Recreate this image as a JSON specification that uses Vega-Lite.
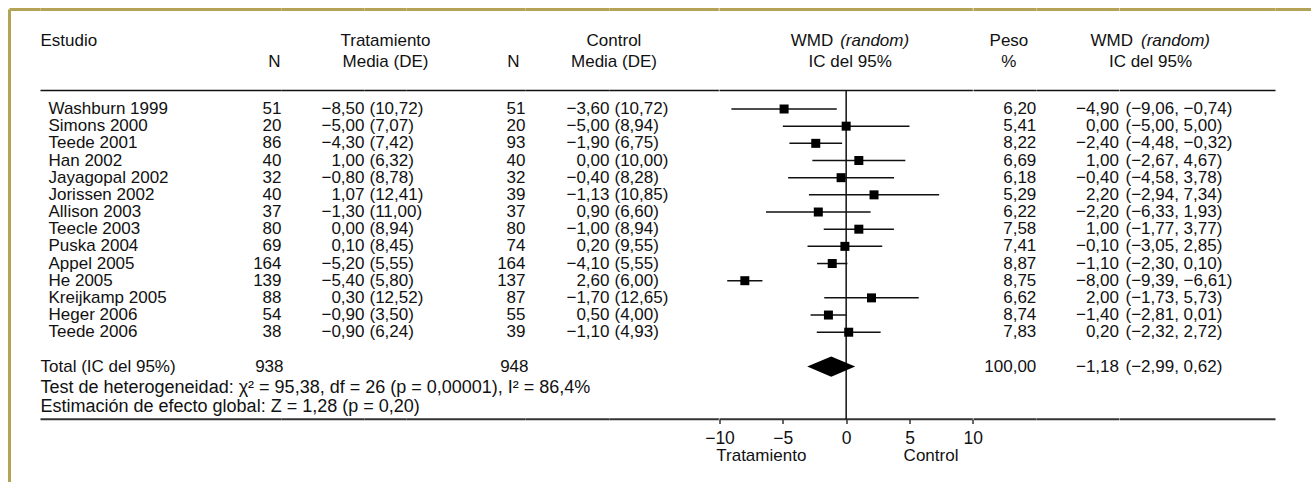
{
  "$schema": "https://vega.github.io/schema/vega-lite/v6.json",
  "background": "white",
  "padding": {"left": 7.5, "top": 7.5, "right": 0, "bottom": 0},
  "spacing": 0,
  "bounds": "flush",
  "data": {"values": [{}]},
  "datasets": {
    "studies": [
      {"order": 0, "study": "Washburn 1999", "nT": 51, "mT": -8.5, "sdT": 10.72, "nC": 51, "mC": -3.6, "sdC": 10.72, "w": 6.2, "wmd": -4.9, "lo": -9.06, "hi": -0.74, "ci": "(−9,06, −0,74)"},
      {"order": 1, "study": "Simons 2000", "nT": 20, "mT": -5.0, "sdT": 7.07, "nC": 20, "mC": -5.0, "sdC": 8.94, "w": 5.41, "wmd": 0.0, "lo": -5.0, "hi": 5.0, "ci": "(−5,00, 5,00)"},
      {"order": 2, "study": "Teede 2001", "nT": 86, "mT": -4.3, "sdT": 7.42, "nC": 93, "mC": -1.9, "sdC": 6.75, "w": 8.22, "wmd": -2.4, "lo": -4.48, "hi": -0.32, "ci": "(−4,48, −0,32)"},
      {"order": 3, "study": "Han 2002", "nT": 40, "mT": 1.0, "sdT": 6.32, "nC": 40, "mC": 0.0, "sdC": 10.0, "w": 6.69, "wmd": 1.0, "lo": -2.67, "hi": 4.67, "ci": "(−2,67, 4,67)"},
      {"order": 4, "study": "Jayagopal 2002", "nT": 32, "mT": -0.8, "sdT": 8.78, "nC": 32, "mC": -0.4, "sdC": 8.28, "w": 6.18, "wmd": -0.4, "lo": -4.58, "hi": 3.78, "ci": "(−4,58, 3,78)"},
      {"order": 5, "study": "Jorissen 2002", "nT": 40, "mT": 1.07, "sdT": 12.41, "nC": 39, "mC": -1.13, "sdC": 10.85, "w": 5.29, "wmd": 2.2, "lo": -2.94, "hi": 7.34, "ci": "(−2,94, 7,34)"},
      {"order": 6, "study": "Allison 2003", "nT": 37, "mT": -1.3, "sdT": 11.0, "nC": 37, "mC": 0.9, "sdC": 6.6, "w": 6.22, "wmd": -2.2, "lo": -6.33, "hi": 1.93, "ci": "(−6,33, 1,93)"},
      {"order": 7, "study": "Teecle 2003", "nT": 80, "mT": 0.0, "sdT": 8.94, "nC": 80, "mC": -1.0, "sdC": 8.94, "w": 7.58, "wmd": 1.0, "lo": -1.77, "hi": 3.77, "ci": "(−1,77, 3,77)"},
      {"order": 8, "study": "Puska 2004", "nT": 69, "mT": 0.1, "sdT": 8.45, "nC": 74, "mC": 0.2, "sdC": 9.55, "w": 7.41, "wmd": -0.1, "lo": -3.05, "hi": 2.85, "ci": "(−3,05, 2,85)"},
      {"order": 9, "study": "Appel 2005", "nT": 164, "mT": -5.2, "sdT": 5.55, "nC": 164, "mC": -4.1, "sdC": 5.55, "w": 8.87, "wmd": -1.1, "lo": -2.3, "hi": 0.1, "ci": "(−2,30, 0,10)"},
      {"order": 10, "study": "He 2005", "nT": 139, "mT": -5.4, "sdT": 5.8, "nC": 137, "mC": 2.6, "sdC": 6.0, "w": 8.75, "wmd": -8.0, "lo": -9.39, "hi": -6.61, "ci": "(−9,39, −6,61)"},
      {"order": 11, "study": "Kreijkamp 2005", "nT": 88, "mT": 0.3, "sdT": 12.52, "nC": 87, "mC": -1.7, "sdC": 12.65, "w": 6.62, "wmd": 2.0, "lo": -1.73, "hi": 5.73, "ci": "(−1,73, 5,73)"},
      {"order": 12, "study": "Heger 2006", "nT": 54, "mT": -0.9, "sdT": 3.5, "nC": 55, "mC": 0.5, "sdC": 4.0, "w": 8.74, "wmd": -1.4, "lo": -2.81, "hi": 0.01, "ci": "(−2,81, 0,01)"},
      {"order": 13, "study": "Teede 2006", "nT": 38, "mT": -0.9, "sdT": 6.24, "nC": 39, "mC": -1.1, "sdC": 4.93, "w": 7.83, "wmd": 0.2, "lo": -2.32, "hi": 2.72, "ci": "(−2,32, 2,72)"}
    ],
    "total": [
      {"order": 15, "label": "Total (IC del 95%)", "nT": 938, "nC": 948, "w": 100.0, "wmd": -1.18, "lo": -2.99, "hi": 0.62, "ci": "(−2,99, 0,62)"}
    ]
  },
  "config": {
    "view": {"stroke": null},
    "font": "Liberation Sans",
    "text": {"font": "Liberation Sans", "fontSize": 17, "color": "#111"},
    "locale": {"number": {"decimal": ",", "thousands": ".", "grouping": [3], "currency": ["(", ")"], "minus": "−"}}
  },
  "hconcat": [
    {
      "width": 31, "height": 473,
      "layer": [
        {"mark": {"type": "rule", "color": "#b3a357", "strokeWidth": 3}, "encoding": {"x": {"datum": 0, "type": "quantitative", "scale": {"domain": [0, 1], "nice": false, "zero": false}, "axis": null}}},
        {"mark": {"type": "rule", "color": "#b3a357", "strokeWidth": 3}, "encoding": {"y": {"datum": -5.795, "type": "quantitative", "scale": {"domain": [-5.795, 21.753], "reverse": true, "nice": false, "zero": false}, "axis": null}}}
      ]
    },
    {
      "width": 241, "height": 473,
      "layer": [
        {"mark": {"type": "rule", "color": "#b3a357", "strokeWidth": 3}, "encoding": {"y": {"datum": -5.795, "type": "quantitative", "scale": {"domain": [-5.795, 21.753], "reverse": true, "nice": false, "zero": false}, "axis": null}}},
        {"mark": {"type": "rule", "color": "#111", "strokeWidth": 1.5}, "encoding": {"y": {"datum": -1.077, "type": "quantitative", "scale": {"domain": [-5.795, 21.753], "reverse": true, "nice": false, "zero": false}, "axis": null}}},
        {"mark": {"type": "rule", "color": "#333", "strokeWidth": 2}, "encoding": {"y": {"datum": 18.066, "type": "quantitative", "scale": {"domain": [-5.795, 21.753], "reverse": true, "nice": false, "zero": false}, "axis": null}}},
        {"mark": {"type": "text", "align": "left"}, "encoding": {"x": {"datum": 0, "type": "quantitative", "scale": {"domain": [0, 1], "nice": false, "zero": false}, "axis": null}, "y": {"datum": -3.946, "type": "quantitative", "scale": {"domain": [-5.795, 21.753], "reverse": true, "nice": false, "zero": false}, "axis": null}, "text": {"value": "Estudio"}}},
        {"mark": {"type": "text", "align": "right", "dx": -1}, "encoding": {"x": {"datum": 1, "type": "quantitative", "scale": {"domain": [0, 1], "nice": false, "zero": false}, "axis": null}, "y": {"datum": -2.752, "type": "quantitative", "scale": {"domain": [-5.795, 21.753], "reverse": true, "nice": false, "zero": false}, "axis": null}, "text": {"value": "N"}}},
        {"data": {"name": "studies"}, "mark": {"type": "text", "align": "left", "dx": 8}, "encoding": {"x": {"datum": 0, "type": "quantitative", "scale": {"domain": [0, 1], "nice": false, "zero": false}, "axis": null}, "y": {"field": "order", "type": "quantitative", "scale": {"domain": [-5.795, 21.753], "reverse": true, "nice": false, "zero": false}, "axis": null}, "text": {"field": "study", "type": "nominal"}}},
        {"data": {"name": "studies"}, "mark": {"type": "text", "align": "right"}, "encoding": {"x": {"datum": 1, "type": "quantitative", "scale": {"domain": [0, 1], "nice": false, "zero": false}, "axis": null}, "y": {"field": "order", "type": "quantitative", "scale": {"domain": [-5.795, 21.753], "reverse": true, "nice": false, "zero": false}, "axis": null}, "text": {"field": "nT", "type": "quantitative", "format": "d"}}},
        {"data": {"name": "total"}, "mark": {"type": "text", "align": "left"}, "encoding": {"x": {"datum": 0, "type": "quantitative", "scale": {"domain": [0, 1], "nice": false, "zero": false}, "axis": null}, "y": {"field": "order", "type": "quantitative", "scale": {"domain": [-5.795, 21.753], "reverse": true, "nice": false, "zero": false}, "axis": null}, "text": {"field": "label", "type": "nominal"}}},
        {"data": {"name": "total"}, "mark": {"type": "text", "align": "right", "dx": 2}, "encoding": {"x": {"datum": 1, "type": "quantitative", "scale": {"domain": [0, 1], "nice": false, "zero": false}, "axis": null}, "y": {"field": "order", "type": "quantitative", "scale": {"domain": [-5.795, 21.753], "reverse": true, "nice": false, "zero": false}, "axis": null}, "text": {"field": "nT", "type": "quantitative", "format": "d"}}},
        {"mark": {"type": "text", "align": "left", "fontSize": 18}, "encoding": {"x": {"datum": 0, "type": "quantitative", "scale": {"domain": [0, 1], "nice": false, "zero": false}, "axis": null}, "y": {"datum": 16.264, "type": "quantitative", "scale": {"domain": [-5.795, 21.753], "reverse": true, "nice": false, "zero": false}, "axis": null}, "text": {"value": "Test de heterogeneidad: χ² = 95,38, df = 26 (p = 0,00001), I² = 86,4%"}}},
        {"mark": {"type": "text", "align": "left", "fontSize": 18}, "encoding": {"x": {"datum": 0, "type": "quantitative", "scale": {"domain": [0, 1], "nice": false, "zero": false}, "axis": null}, "y": {"datum": 17.37, "type": "quantitative", "scale": {"domain": [-5.795, 21.753], "reverse": true, "nice": false, "zero": false}, "axis": null}, "text": {"value": "Estimación de efecto global: Z = 1,28 (p = 0,20)"}}}
      ]
    },
    {
      "width": 83, "height": 473,
      "layer": [
        {"mark": {"type": "rule", "color": "#b3a357", "strokeWidth": 3}, "encoding": {"y": {"datum": -5.795, "type": "quantitative", "scale": {"domain": [-5.795, 21.753], "reverse": true, "nice": false, "zero": false}, "axis": null}}},
        {"mark": {"type": "rule", "color": "#111", "strokeWidth": 1.5}, "encoding": {"y": {"datum": -1.077, "type": "quantitative", "scale": {"domain": [-5.795, 21.753], "reverse": true, "nice": false, "zero": false}, "axis": null}}},
        {"mark": {"type": "rule", "color": "#333", "strokeWidth": 2}, "encoding": {"y": {"datum": 18.066, "type": "quantitative", "scale": {"domain": [-5.795, 21.753], "reverse": true, "nice": false, "zero": false}, "axis": null}}},
        {"data": {"name": "studies"}, "mark": {"type": "text", "align": "right"}, "encoding": {"x": {"datum": 1, "type": "quantitative", "scale": {"domain": [0, 1], "nice": false, "zero": false}, "axis": null}, "y": {"field": "order", "type": "quantitative", "scale": {"domain": [-5.795, 21.753], "reverse": true, "nice": false, "zero": false}, "axis": null}, "text": {"field": "mT", "type": "quantitative", "format": ".2f"}}}
      ]
    },
    {
      "width": 42, "height": 473,
      "layer": [
        {"mark": {"type": "rule", "color": "#b3a357", "strokeWidth": 3}, "encoding": {"y": {"datum": -5.795, "type": "quantitative", "scale": {"domain": [-5.795, 21.753], "reverse": true, "nice": false, "zero": false}, "axis": null}}},
        {"mark": {"type": "rule", "color": "#111", "strokeWidth": 1.5}, "encoding": {"y": {"datum": -1.077, "type": "quantitative", "scale": {"domain": [-5.795, 21.753], "reverse": true, "nice": false, "zero": false}, "axis": null}}},
        {"mark": {"type": "rule", "color": "#333", "strokeWidth": 2}, "encoding": {"y": {"datum": 18.066, "type": "quantitative", "scale": {"domain": [-5.795, 21.753], "reverse": true, "nice": false, "zero": false}, "axis": null}}},
        {"mark": {"type": "text"}, "encoding": {"y": {"datum": -3.946, "type": "quantitative", "scale": {"domain": [-5.795, 21.753], "reverse": true, "nice": false, "zero": false}, "axis": null}, "text": {"value": "Tratamiento"}}},
        {"mark": {"type": "text"}, "encoding": {"y": {"datum": -2.752, "type": "quantitative", "scale": {"domain": [-5.795, 21.753], "reverse": true, "nice": false, "zero": false}, "axis": null}, "text": {"value": "Media (DE)"}}},
        {"data": {"name": "studies"}, "mark": {"type": "text", "align": "left", "dx": 5}, "encoding": {"x": {"datum": 0, "type": "quantitative", "scale": {"domain": [0, 1], "nice": false, "zero": false}, "axis": null}, "y": {"field": "order", "type": "quantitative", "scale": {"domain": [-5.795, 21.753], "reverse": true, "nice": false, "zero": false}, "axis": null}, "text": {"field": "sdT", "type": "quantitative", "format": "$.2f"}}}
      ]
    },
    {
      "width": 119, "height": 473,
      "layer": [
        {"mark": {"type": "rule", "color": "#b3a357", "strokeWidth": 3}, "encoding": {"y": {"datum": -5.795, "type": "quantitative", "scale": {"domain": [-5.795, 21.753], "reverse": true, "nice": false, "zero": false}, "axis": null}}},
        {"mark": {"type": "rule", "color": "#111", "strokeWidth": 1.5}, "encoding": {"y": {"datum": -1.077, "type": "quantitative", "scale": {"domain": [-5.795, 21.753], "reverse": true, "nice": false, "zero": false}, "axis": null}}},
        {"mark": {"type": "rule", "color": "#333", "strokeWidth": 2}, "encoding": {"y": {"datum": 18.066, "type": "quantitative", "scale": {"domain": [-5.795, 21.753], "reverse": true, "nice": false, "zero": false}, "axis": null}}},
        {"mark": {"type": "text", "align": "right", "dx": -6}, "encoding": {"x": {"datum": 1, "type": "quantitative", "scale": {"domain": [0, 1], "nice": false, "zero": false}, "axis": null}, "y": {"datum": -2.752, "type": "quantitative", "scale": {"domain": [-5.795, 21.753], "reverse": true, "nice": false, "zero": false}, "axis": null}, "text": {"value": "N"}}},
        {"data": {"name": "studies"}, "mark": {"type": "text", "align": "right"}, "encoding": {"x": {"datum": 1, "type": "quantitative", "scale": {"domain": [0, 1], "nice": false, "zero": false}, "axis": null}, "y": {"field": "order", "type": "quantitative", "scale": {"domain": [-5.795, 21.753], "reverse": true, "nice": false, "zero": false}, "axis": null}, "text": {"field": "nC", "type": "quantitative", "format": "d"}}},
        {"data": {"name": "total"}, "mark": {"type": "text", "align": "right", "dx": 3}, "encoding": {"x": {"datum": 1, "type": "quantitative", "scale": {"domain": [0, 1], "nice": false, "zero": false}, "axis": null}, "y": {"field": "order", "type": "quantitative", "scale": {"domain": [-5.795, 21.753], "reverse": true, "nice": false, "zero": false}, "axis": null}, "text": {"field": "nC", "type": "quantitative", "format": "d"}}}
      ]
    },
    {
      "width": 84, "height": 473,
      "layer": [
        {"mark": {"type": "rule", "color": "#b3a357", "strokeWidth": 3}, "encoding": {"y": {"datum": -5.795, "type": "quantitative", "scale": {"domain": [-5.795, 21.753], "reverse": true, "nice": false, "zero": false}, "axis": null}}},
        {"mark": {"type": "rule", "color": "#111", "strokeWidth": 1.5}, "encoding": {"y": {"datum": -1.077, "type": "quantitative", "scale": {"domain": [-5.795, 21.753], "reverse": true, "nice": false, "zero": false}, "axis": null}}},
        {"mark": {"type": "rule", "color": "#333", "strokeWidth": 2}, "encoding": {"y": {"datum": 18.066, "type": "quantitative", "scale": {"domain": [-5.795, 21.753], "reverse": true, "nice": false, "zero": false}, "axis": null}}},
        {"mark": {"type": "text", "dx": 4.5}, "encoding": {"x": {"datum": 1, "type": "quantitative", "scale": {"domain": [0, 1], "nice": false, "zero": false}, "axis": null}, "y": {"datum": -3.946, "type": "quantitative", "scale": {"domain": [-5.795, 21.753], "reverse": true, "nice": false, "zero": false}, "axis": null}, "text": {"value": "Control"}}},
        {"mark": {"type": "text", "dx": 4.5}, "encoding": {"x": {"datum": 1, "type": "quantitative", "scale": {"domain": [0, 1], "nice": false, "zero": false}, "axis": null}, "y": {"datum": -2.752, "type": "quantitative", "scale": {"domain": [-5.795, 21.753], "reverse": true, "nice": false, "zero": false}, "axis": null}, "text": {"value": "Media (DE)"}}},
        {"data": {"name": "studies"}, "mark": {"type": "text", "align": "right"}, "encoding": {"x": {"datum": 1, "type": "quantitative", "scale": {"domain": [0, 1], "nice": false, "zero": false}, "axis": null}, "y": {"field": "order", "type": "quantitative", "scale": {"domain": [-5.795, 21.753], "reverse": true, "nice": false, "zero": false}, "axis": null}, "text": {"field": "mC", "type": "quantitative", "format": ".2f"}}}
      ]
    },
    {
      "width": 109.33, "height": 473,
      "layer": [
        {"mark": {"type": "rule", "color": "#b3a357", "strokeWidth": 3}, "encoding": {"y": {"datum": -5.795, "type": "quantitative", "scale": {"domain": [-5.795, 21.753], "reverse": true, "nice": false, "zero": false}, "axis": null}}},
        {"mark": {"type": "rule", "color": "#111", "strokeWidth": 1.5}, "encoding": {"y": {"datum": -1.077, "type": "quantitative", "scale": {"domain": [-5.795, 21.753], "reverse": true, "nice": false, "zero": false}, "axis": null}}},
        {"mark": {"type": "rule", "color": "#333", "strokeWidth": 2}, "encoding": {"y": {"datum": 18.066, "type": "quantitative", "scale": {"domain": [-5.795, 21.753], "reverse": true, "nice": false, "zero": false}, "axis": null}}},
        {"data": {"name": "studies"}, "mark": {"type": "text", "align": "left", "dx": 5}, "encoding": {"x": {"datum": 0, "type": "quantitative", "scale": {"domain": [0, 1], "nice": false, "zero": false}, "axis": null}, "y": {"field": "order", "type": "quantitative", "scale": {"domain": [-5.795, 21.753], "reverse": true, "nice": false, "zero": false}, "axis": null}, "text": {"field": "sdC", "type": "quantitative", "format": "$.2f"}}}
      ]
    },
    {
      "width": 253.33, "height": 473,
      "resolve": {"axis": {"x": "independent"}},
      "layer": [
        {"mark": {"type": "rule", "color": "#b3a357", "strokeWidth": 3}, "encoding": {"y": {"datum": -5.795, "type": "quantitative", "scale": {"domain": [-5.795, 21.753], "reverse": true, "nice": false, "zero": false}, "axis": null}}},
        {"mark": {"type": "rule", "color": "#111", "strokeWidth": 1.5}, "encoding": {"y": {"datum": -1.077, "type": "quantitative", "scale": {"domain": [-5.795, 21.753], "reverse": true, "nice": false, "zero": false}, "axis": null}}},
        {"mark": {"type": "rule", "color": "#333", "strokeWidth": 2}, "encoding": {"y": {"datum": 18.066, "type": "quantitative", "scale": {"domain": [-5.795, 21.753], "reverse": true, "nice": false, "zero": false}, "axis": null}}},
        {"mark": {"type": "rule", "color": "#111", "strokeWidth": 1.5}, "encoding": {
          "x": {"datum": 0, "type": "quantitative", "scale": {"domain": [-10, 10], "nice": false, "zero": false}, "axis": null},
          "y": {"datum": -1.077, "type": "quantitative", "scale": {"domain": [-5.795, 21.753], "reverse": true, "nice": false, "zero": false}, "axis": null},
          "y2": {"datum": 18.066}}},
        {"data": {"name": "studies"}, "mark": {"type": "rule", "color": "#111", "strokeWidth": 1.5}, "encoding": {"x": {"field": "lo", "type": "quantitative", "scale": {"domain": [-10, 10], "nice": false, "zero": false}, "axis": null}, "x2": {"field": "hi"}, "y": {"field": "order", "type": "quantitative", "scale": {"domain": [-5.795, 21.753], "reverse": true, "nice": false, "zero": false}, "axis": null}}},
        {"data": {"name": "studies"}, "mark": {"type": "point", "shape": "square", "filled": true, "size": 81, "color": "#000", "opacity": 1}, "encoding": {
          "x": {"field": "wmd", "type": "quantitative", "scale": {"domain": [-10, 10], "nice": false, "zero": false},
                "axis": {"orient": "bottom", "offset": -63, "values": [-10, -5, 0, 5, 10], "format": "d", "domain": false, "grid": false, "ticks": true, "tickSize": 4, "tickWidth": 1.5, "tickColor": "#333", "labelFont": "Liberation Sans", "labelFontSize": 17.5, "labelColor": "#111", "labelPadding": 6, "labelFlush": false, "labelOverlap": false, "title": null}},
          "y": {"field": "order", "type": "quantitative", "scale": {"domain": [-5.795, 21.753], "reverse": true, "nice": false, "zero": false}, "axis": null}}},
        {"data": {"name": "total"}, "mark": {"type": "point", "shape": "M-1,0L0,-0.42L1,0L0,0.42Z", "filled": true, "size": 2304, "color": "#000", "opacity": 1}, "encoding": {"x": {"field": "wmd", "type": "quantitative", "scale": {"domain": [-10, 10], "nice": false, "zero": false}, "axis": null}, "y": {"field": "order", "type": "quantitative", "scale": {"domain": [-5.795, 21.753], "reverse": true, "nice": false, "zero": false}, "axis": null}}},
        {"mark": {"type": "text", "align": "right", "dx": -13}, "encoding": {"x": {"datum": 0, "type": "quantitative", "scale": {"domain": [-10, 10], "nice": false, "zero": false}, "axis": null}, "y": {"datum": -3.946, "type": "quantitative", "scale": {"domain": [-5.795, 21.753], "reverse": true, "nice": false, "zero": false}, "axis": null}, "text": {"value": "WMD"}}},
        {"mark": {"type": "text", "align": "left", "dx": -6, "fontStyle": "italic"}, "encoding": {"x": {"datum": 0, "type": "quantitative", "scale": {"domain": [-10, 10], "nice": false, "zero": false}, "axis": null}, "y": {"datum": -3.946, "type": "quantitative", "scale": {"domain": [-5.795, 21.753], "reverse": true, "nice": false, "zero": false}, "axis": null}, "text": {"value": "(random)"}}},
        {"mark": {"type": "text", "dx": 4}, "encoding": {"x": {"datum": 0, "type": "quantitative", "scale": {"domain": [-10, 10], "nice": false, "zero": false}, "axis": null}, "y": {"datum": -2.752, "type": "quantitative", "scale": {"domain": [-5.795, 21.753], "reverse": true, "nice": false, "zero": false}, "axis": null}, "text": {"value": "IC del 95%"}}},
        {"mark": {"type": "text"}, "encoding": {"x": {"datum": -6.7, "type": "quantitative", "scale": {"domain": [-10, 10], "nice": false, "zero": false}, "axis": null}, "y": {"datum": 20.225, "type": "quantitative", "scale": {"domain": [-5.795, 21.753], "reverse": true, "nice": false, "zero": false}, "axis": null}, "text": {"value": "Tratamiento"}}},
        {"mark": {"type": "text"}, "encoding": {"x": {"datum": 6.7, "type": "quantitative", "scale": {"domain": [-10, 10], "nice": false, "zero": false}, "axis": null}, "y": {"datum": 20.225, "type": "quantitative", "scale": {"domain": [-5.795, 21.753], "reverse": true, "nice": false, "zero": false}, "axis": null}, "text": {"value": "Control"}}}
      ]
    },
    {
      "width": 62.83, "height": 473,
      "layer": [
        {"mark": {"type": "rule", "color": "#b3a357", "strokeWidth": 3}, "encoding": {"y": {"datum": -5.795, "type": "quantitative", "scale": {"domain": [-5.795, 21.753], "reverse": true, "nice": false, "zero": false}, "axis": null}}},
        {"mark": {"type": "rule", "color": "#111", "strokeWidth": 1.5}, "encoding": {"y": {"datum": -1.077, "type": "quantitative", "scale": {"domain": [-5.795, 21.753], "reverse": true, "nice": false, "zero": false}, "axis": null}}},
        {"mark": {"type": "rule", "color": "#333", "strokeWidth": 2}, "encoding": {"y": {"datum": 18.066, "type": "quantitative", "scale": {"domain": [-5.795, 21.753], "reverse": true, "nice": false, "zero": false}, "axis": null}}},
        {"mark": {"type": "text", "dx": 4}, "encoding": {"y": {"datum": -3.946, "type": "quantitative", "scale": {"domain": [-5.795, 21.753], "reverse": true, "nice": false, "zero": false}, "axis": null}, "text": {"value": "Peso"}}},
        {"mark": {"type": "text", "dx": 4}, "encoding": {"y": {"datum": -2.752, "type": "quantitative", "scale": {"domain": [-5.795, 21.753], "reverse": true, "nice": false, "zero": false}, "axis": null}, "text": {"value": "%"}}},
        {"data": {"name": "studies"}, "mark": {"type": "text", "align": "right"}, "encoding": {"x": {"datum": 1, "type": "quantitative", "scale": {"domain": [0, 1], "nice": false, "zero": false}, "axis": null}, "y": {"field": "order", "type": "quantitative", "scale": {"domain": [-5.795, 21.753], "reverse": true, "nice": false, "zero": false}, "axis": null}, "text": {"field": "w", "type": "quantitative", "format": ".2f"}}},
        {"data": {"name": "total"}, "mark": {"type": "text", "align": "right"}, "encoding": {"x": {"datum": 1, "type": "quantitative", "scale": {"domain": [0, 1], "nice": false, "zero": false}, "axis": null}, "y": {"field": "order", "type": "quantitative", "scale": {"domain": [-5.795, 21.753], "reverse": true, "nice": false, "zero": false}, "axis": null}, "text": {"field": "w", "type": "quantitative", "format": ".2f"}}}
      ]
    },
    {
      "width": 82.5, "height": 473,
      "layer": [
        {"mark": {"type": "rule", "color": "#b3a357", "strokeWidth": 3}, "encoding": {"y": {"datum": -5.795, "type": "quantitative", "scale": {"domain": [-5.795, 21.753], "reverse": true, "nice": false, "zero": false}, "axis": null}}},
        {"mark": {"type": "rule", "color": "#111", "strokeWidth": 1.5}, "encoding": {"y": {"datum": -1.077, "type": "quantitative", "scale": {"domain": [-5.795, 21.753], "reverse": true, "nice": false, "zero": false}, "axis": null}}},
        {"mark": {"type": "rule", "color": "#333", "strokeWidth": 2}, "encoding": {"y": {"datum": 18.066, "type": "quantitative", "scale": {"domain": [-5.795, 21.753], "reverse": true, "nice": false, "zero": false}, "axis": null}}},
        {"data": {"name": "studies"}, "mark": {"type": "text", "align": "right"}, "encoding": {"x": {"datum": 1, "type": "quantitative", "scale": {"domain": [0, 1], "nice": false, "zero": false}, "axis": null}, "y": {"field": "order", "type": "quantitative", "scale": {"domain": [-5.795, 21.753], "reverse": true, "nice": false, "zero": false}, "axis": null}, "text": {"field": "wmd", "type": "quantitative", "format": ".2f"}}},
        {"data": {"name": "total"}, "mark": {"type": "text", "align": "right"}, "encoding": {"x": {"datum": 1, "type": "quantitative", "scale": {"domain": [0, 1], "nice": false, "zero": false}, "axis": null}, "y": {"field": "order", "type": "quantitative", "scale": {"domain": [-5.795, 21.753], "reverse": true, "nice": false, "zero": false}, "axis": null}, "text": {"field": "wmd", "type": "quantitative", "format": ".2f"}}}
      ]
    },
    {
      "width": 156, "height": 473,
      "layer": [
        {"mark": {"type": "rule", "color": "#b3a357", "strokeWidth": 3}, "encoding": {"y": {"datum": -5.795, "type": "quantitative", "scale": {"domain": [-5.795, 21.753], "reverse": true, "nice": false, "zero": false}, "axis": null}}},
        {"mark": {"type": "rule", "color": "#111", "strokeWidth": 1.5}, "encoding": {"y": {"datum": -1.077, "type": "quantitative", "scale": {"domain": [-5.795, 21.753], "reverse": true, "nice": false, "zero": false}, "axis": null}}},
        {"mark": {"type": "rule", "color": "#333", "strokeWidth": 2}, "encoding": {"y": {"datum": 18.066, "type": "quantitative", "scale": {"domain": [-5.795, 21.753], "reverse": true, "nice": false, "zero": false}, "axis": null}}},
        {"mark": {"type": "text", "align": "right", "dx": 13.5}, "encoding": {"x": {"datum": 0, "type": "quantitative", "scale": {"domain": [0, 1], "nice": false, "zero": false}, "axis": null}, "y": {"datum": -3.946, "type": "quantitative", "scale": {"domain": [-5.795, 21.753], "reverse": true, "nice": false, "zero": false}, "axis": null}, "text": {"value": "WMD"}}},
        {"mark": {"type": "text", "align": "left", "dx": 21.5, "fontStyle": "italic"}, "encoding": {"x": {"datum": 0, "type": "quantitative", "scale": {"domain": [0, 1], "nice": false, "zero": false}, "axis": null}, "y": {"datum": -3.946, "type": "quantitative", "scale": {"domain": [-5.795, 21.753], "reverse": true, "nice": false, "zero": false}, "axis": null}, "text": {"value": "(random)"}}},
        {"mark": {"type": "text", "dx": 31}, "encoding": {"x": {"datum": 0, "type": "quantitative", "scale": {"domain": [0, 1], "nice": false, "zero": false}, "axis": null}, "y": {"datum": -2.752, "type": "quantitative", "scale": {"domain": [-5.795, 21.753], "reverse": true, "nice": false, "zero": false}, "axis": null}, "text": {"value": "IC del 95%"}}},
        {"data": {"name": "studies"}, "mark": {"type": "text", "align": "left", "dx": 6}, "encoding": {"x": {"datum": 0, "type": "quantitative", "scale": {"domain": [0, 1], "nice": false, "zero": false}, "axis": null}, "y": {"field": "order", "type": "quantitative", "scale": {"domain": [-5.795, 21.753], "reverse": true, "nice": false, "zero": false}, "axis": null}, "text": {"field": "ci", "type": "nominal"}}},
        {"data": {"name": "total"}, "mark": {"type": "text", "align": "left", "dx": 6}, "encoding": {"x": {"datum": 0, "type": "quantitative", "scale": {"domain": [0, 1], "nice": false, "zero": false}, "axis": null}, "y": {"field": "order", "type": "quantitative", "scale": {"domain": [-5.795, 21.753], "reverse": true, "nice": false, "zero": false}, "axis": null}, "text": {"field": "ci", "type": "nominal"}}}
      ]
    },
    {
      "width": 38, "height": 473,
      "layer": [
        {"mark": {"type": "rule", "color": "#b3a357", "strokeWidth": 3}, "encoding": {"y": {"datum": -5.795, "type": "quantitative", "scale": {"domain": [-5.795, 21.753], "reverse": true, "nice": false, "zero": false}, "axis": null}}}
      ]
    }
  ]
}
